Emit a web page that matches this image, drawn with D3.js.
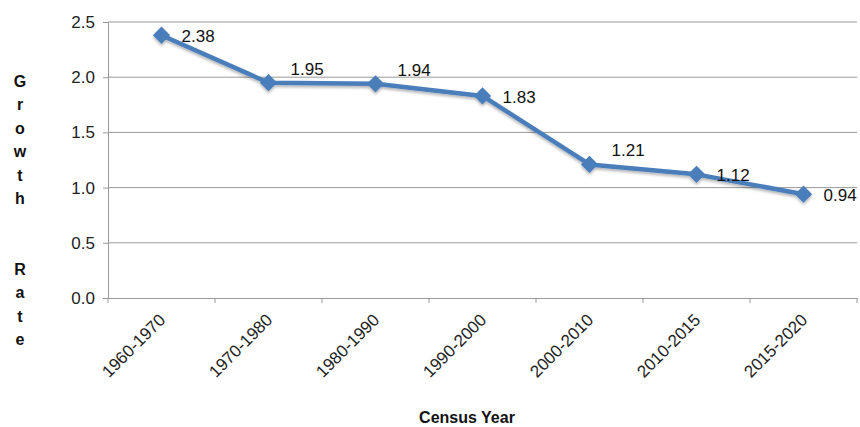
<!DOCTYPE html>
<html><head><meta charset="utf-8">
<script src="https://cdn.jsdelivr.net/npm/d3@7"></script>
<style>body{margin:0;background:#fff}svg{display:block;font-family:"Liberation Sans",Arial,sans-serif}</style>
</head><body><svg id="c" width="860" height="427"></svg>
<script>
const categories = ["1960-1970","1970-1980","1980-1990","1990-2000","2000-2010","2010-2015","2015-2020"];
const growthRate = [2.38,1.95,1.94,1.83,1.21,1.12,0.94];
const yTicks = [0,0.5,1.0,1.5,2.0,2.5];
const labelPlacement = ["right","above","above","right","above","right","right"];
const yTitle = "Growth  Rate";
const xTitle = "Census Year";

const svg = d3.select("#c");
const m = {l:108, r:3, t:22, b:129};
const W = 860, H = 427;
const x = d3.scaleBand().domain(categories).range([m.l, W - m.r]);
const y = d3.scaleLinear().domain([0, 2.5]).range([H - m.b, m.t]);
const grey = "#999";

// gridlines
svg.append("g").selectAll("line").data(yTicks.filter(d => d > 0)).join("line")
  .attr("x1", m.l).attr("x2", W - m.r).attr("y1", d => y(d)).attr("y2", d => y(d))
  .attr("stroke", grey).attr("stroke-width", 1);

// y axis
const ya = svg.append("g").attr("transform", `translate(${m.l},0)`)
  .call(d3.axisLeft(y).tickValues(yTicks).tickFormat(d3.format(".1f")).tickSize(5).tickPadding(8));
ya.select(".domain").attr("stroke", grey);
ya.selectAll(".tick line").attr("stroke", grey);
ya.selectAll("text").attr("font-size", 17).attr("fill", "#222").attr("font-family", "Liberation Sans, Arial");

// x axis
const xa = svg.append("g").attr("transform", `translate(0,${H - m.b})`)
  .call(d3.axisBottom(x).tickSize(0).tickPadding(0));
xa.select(".domain").attr("stroke", grey);
xa.selectAll(".tick line").remove();
// band boundary ticks
const bounds = categories.map(c => x(c)).concat([x(categories[categories.length-1]) + x.bandwidth()]);
svg.append("g").selectAll("line").data(bounds).join("line")
  .attr("x1", d => d).attr("x2", d => d).attr("y1", H - m.b).attr("y2", H - m.b + 5)
  .attr("stroke", grey);
xa.selectAll(".tick text")
  .attr("font-size", 17).attr("fill", "#222").attr("font-family", "Liberation Sans, Arial")
  .attr("text-anchor", "end")
  .attr("transform", "translate(5,23) rotate(-45)")
  .attr("dy", 0).attr("y", 0);

// line
const cx = d => x(d) + x.bandwidth() / 2;
const pts = categories.map((c, i) => [cx(c), y(growthRate[i])]);
const defs = svg.append("defs");
const f = defs.append("filter").attr("id", "sh").attr("x", "-20%").attr("y", "-20%").attr("width", "140%").attr("height", "160%");
f.append("feDropShadow").attr("dx", 0).attr("dy", 2).attr("stdDeviation", 1.5).attr("flood-color", "#000").attr("flood-opacity", 0.3);

const g = svg.append("g").attr("filter", "url(#sh)");
g.append("path").datum(pts).attr("d", d3.line()).attr("fill", "none")
  .attr("stroke", "#4a7ebb").attr("stroke-width", 4.5).attr("stroke-linejoin", "round");
g.selectAll("path.m").data(pts).join("path").attr("class", "m")
  .attr("d", d3.symbol(d3.symbolDiamond2, 190))
  .attr("transform", d => `translate(${d[0]},${d[1]})`)
  .attr("fill", "#4a7ebb");

// data labels
svg.append("g").selectAll("text").data(pts).join("text")
  .attr("x", (d, i) => labelPlacement[i] === "right" ? d[0] + 20 : d[0] + 22)
  .attr("y", (d, i) => labelPlacement[i] === "right" ? d[1] + 1 : d[1] - 14)
  .attr("dy", "0.35em").attr("font-size", 17).attr("fill", "#111")
  .text((d, i) => growthRate[i].toFixed(2));

// y title stacked letters
svg.append("g").selectAll("text").data(yTitle.split("")).join("text")
  .attr("x", 20).attr("y", (d, i) => 81 + i * 23.5).attr("dy", "0.35em")
  .attr("text-anchor", "middle").attr("font-size", 16).attr("font-weight", "bold").attr("fill", "#111")
  .text(d => d);

// x title
svg.append("text").attr("x", 467).attr("y", 417).attr("dy", "0.35em")
  .attr("text-anchor", "middle").attr("font-size", 16).attr("font-weight", "bold").attr("fill", "#111")
  .text(xTitle);
</script></body></html>
